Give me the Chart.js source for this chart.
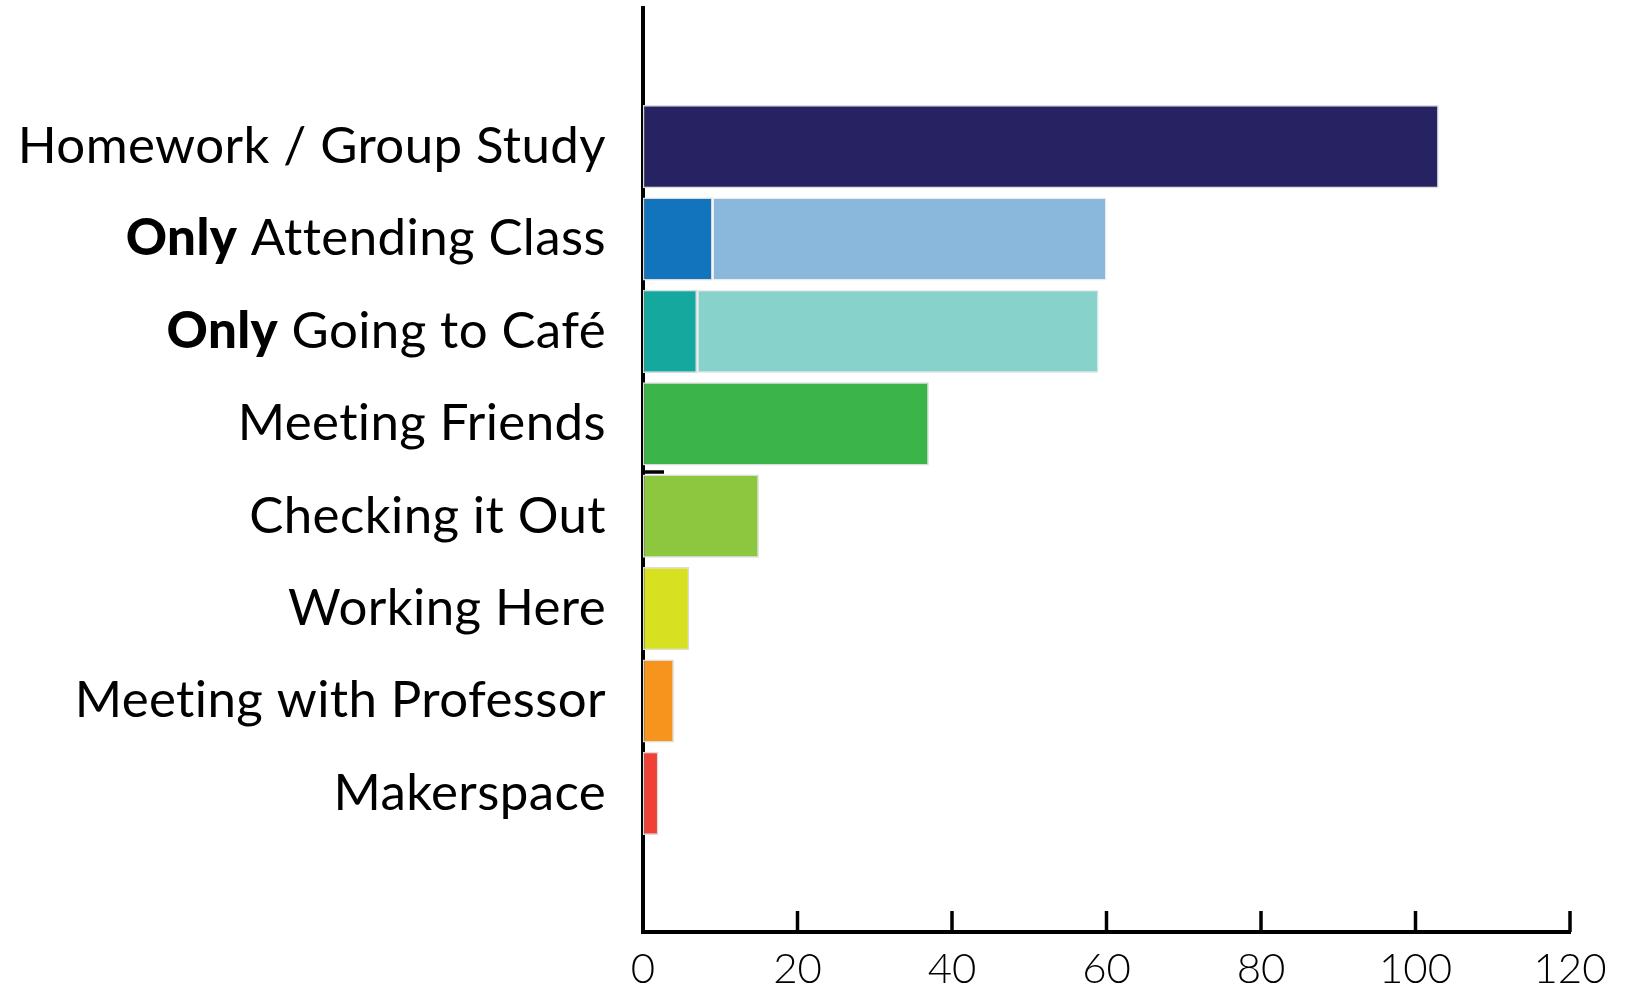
<!DOCTYPE html>
<html>
<head>
<meta charset="utf-8">
<script src="https://cdn.jsdelivr.net/npm/chart.js@4"></script>
<style>
  html, body { margin: 0; padding: 0; background: #fff; }
  #wrap { width: 1626px; height: 987px; }
</style>
</head>
<body>
<div id="wrap"><canvas id="myChart"></canvas></div>
<script>
// categories, top to bottom
var categories = [
  'Homework / Group Study',
  'Only Attending Class',
  'Only Going to Café',
  'Meeting Friends',
  'Checking it Out',
  'Working Here',
  'Meeting with Professor',
  'Makerspace'
];
// dark (first) part of each bar
var mainValues = [103, 9, 7, 37, 15, 6, 4, 2];
// light (extra) part, only for the two "Only" rows
var extraValues = [0, 51, 52, 0, 0, 0, 0, 0];
var xTicks = [0, 20, 40, 60, 80, 100, 120];

var mainColors = ['#272262', '#1174bc', '#14a89e', '#3bb44a', '#8dc63f', '#d7e021', '#f7941d', '#ef4136'];
var extraColors = ['#272262', '#89b8dc', '#88d2cc', '#3bb44a', '#8dc63f', '#d7e021', '#f7941d', '#ef4136'];

// empty slot above and below the bars
var pad = (arr, v) => [v].concat(arr, [v]);

var labelFont = 'Lato, "Open Sans", sans-serif';

// draws the category labels (with bold "Only") and the inward ticks
var axisExtras = {
  id: 'axisExtras',
  afterDraw: (chart) => {
    var ctx = chart.ctx;
    var y = chart.scales.y, x = chart.scales.x;
    var area = chart.chartArea;
    ctx.save();
    ctx.fillStyle = '#000';
    ctx.textBaseline = 'middle';
    ctx.letterSpacing = '0.4px'; // also stops the ligatures
    categories.forEach((label, i) => {
      var py = y.getPixelForValue(i + 1);
      var right = 606;
      var bold = '', rest = label;
      if (label.indexOf('Only ') === 0) {
        bold = 'Only';
        rest = label.slice(4);
      }
      ctx.font = '400 51px ' + labelFont;
      ctx.textAlign = 'right';
      ctx.fillText(rest, right, py);
      if (bold) {
        var w = ctx.measureText(rest).width;
        ctx.font = '900 51px ' + labelFont;
        ctx.fillText(bold, right - w, py);
      }
    });
    // inward ticks on x axis
    ctx.strokeStyle = '#000';
    ctx.lineWidth = 3.5;
    xTicks.forEach((t) => {
      if (t === 0) return;
      var px = x.getPixelForValue(t);
      ctx.beginPath();
      ctx.moveTo(px, area.bottom);
      ctx.lineTo(px, area.bottom - 21);
      ctx.stroke();
    });
    // small stray tick on the y axis
    var my = (y.getPixelForValue(4) + y.getPixelForValue(5)) / 2 + 2;
    ctx.beginPath();
    ctx.moveTo(area.left, my);
    ctx.lineTo(area.left + 21, my);
    ctx.stroke();
    ctx.restore();
  }
};

var ctx = document.getElementById('myChart').getContext('2d');
var chart = new Chart(ctx, {
  type: 'bar',
  data: {
    labels: pad(categories, ''),
    datasets: [{
      data: pad(mainValues, null),
      backgroundColor: pad(mainColors, '#fff'),
      borderColor: '#dcdcdc',
      borderWidth: 1.5,
      borderSkipped: false,
      barPercentage: 0.9,
      categoryPercentage: 1
    }, {
      data: pad(extraValues, null),
      backgroundColor: pad(extraColors, '#fff'),
      borderColor: '#ececec',
      borderWidth: 1.5,
      borderSkipped: false,
      barPercentage: 0.9,
      categoryPercentage: 1
    }]
  },
  options: {
    indexAxis: 'y',
    responsive: true,
    maintainAspectRatio: false,
    animation: false,
    layout: { padding: { top: 8, right: 56, left: 0, bottom: 0 } },
    plugins: { legend: { display: false }, tooltip: { enabled: false } },
    scales: {
      x: {
        stacked: true,
        min: 0,
        max: 120,
        afterBuildTicks: (s) => { s.ticks = xTicks.map(v => ({ value: v })); },
        afterFit: (s) => { s.height = 55; },
        grid: { display: false, drawTicks: false },
        border: { display: true, color: '#000', width: 4 },
        ticks: {
          color: '#000',
          padding: 12,
          font: { family: labelFont, size: 42, weight: '300' },
          maxRotation: 0
        }
      },
      y: {
        stacked: true,
        afterFit: (s) => { s.width = 643; },
        grid: { display: false, drawTicks: false },
        border: { display: true, color: '#000', width: 4 },
        ticks: { display: false }
      }
    }
  },
  plugins: [axisExtras]
});
</script>
</body>
</html>
